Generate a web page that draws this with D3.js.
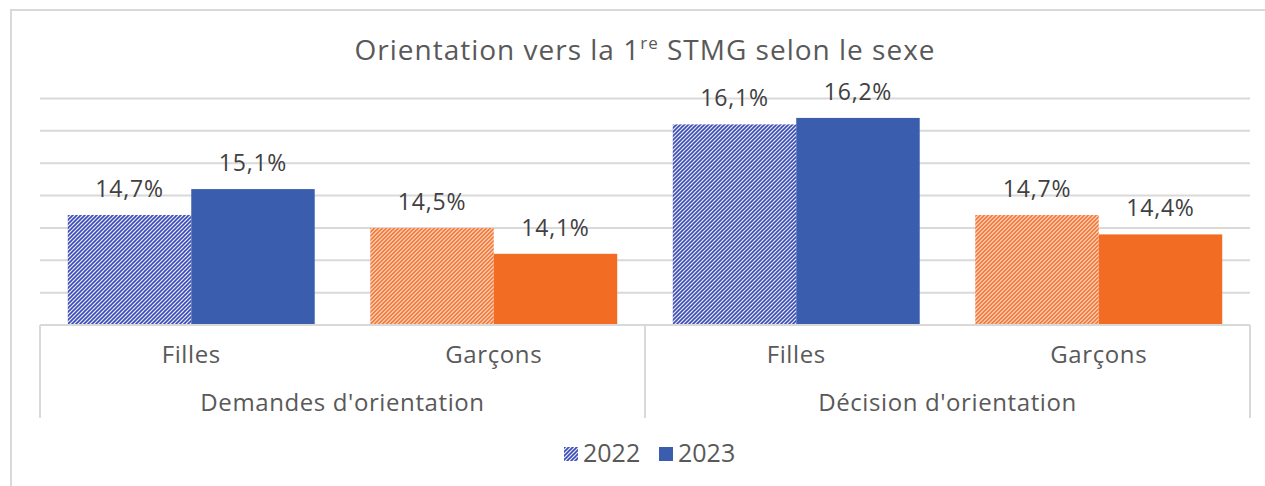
<!DOCTYPE html>
<html>
<head>
<meta charset="utf-8">
<script src="https://cdn.jsdelivr.net/npm/d3@7"></script>
<style>
  body { margin: 0; background: #fff; }
  text { font-family: "Open Sans", sans-serif; }
</style>
</head>
<body>
<script>
const groups = ["Demandes d'orientation", "Décision d'orientation"]
const sexes = ["Filles", "Garçons"]
const years = ["2022", "2023"]
const values2022 = [14.7, 14.5, 16.1, 14.7]
const values2023 = [15.1, 14.1, 16.2, 14.4]
const yTicks = [13, 13.5, 14, 14.5, 15, 15.5, 16, 16.5]

const w = 1265
const h = 486
const blue = '#3a5dae'
const orange = '#f26c23'
const grid = '#d9d9d9'

const rows = []
groups.forEach((g, gi) => sexes.forEach((s, si) => {
    const i = gi * 2 + si
    rows.push({ key: g + '|' + s, group: g, sex: s, v: [values2022[i], values2023[i]] })
}))

const svg = d3.select('body')
                .append('svg')
                .attr('width', w)
                .attr('height', h)

// patterns for 2022 (pixel aligned diagonal stripes)
const defs = svg.append('defs')
const hatch = (id, bg, fg) => {
    const p = defs.append('pattern')
        .attr('id', id)
        .attr('patternUnits', 'userSpaceOnUse')
        .attr('width', 4)
        .attr('height', 4)
    p.append('rect').attr('width', 4).attr('height', 4).attr('fill', bg)
    p.append('path')
        .attr('d', 'M-1,1 l2,-2 M0,4 l4,-4 M3,5 l2,-2')
        .attr('stroke', fg)
        .attr('stroke-width', 1.6)
}
hatch('hBlue', '#e4f3ea', '#4048c0')
hatch('hOrange', '#fff3e6', '#f26722')

svg.append('rect')
    .attr('x', 11).attr('y', 10)
    .attr('width', 1270).attr('height', 500)
    .attr('fill', 'none')
    .attr('stroke', grid)
    .attr('stroke-width', 2)

const plotLeft = 40, plotRight = 1250, plotTop = 98.5, base = 325

const x0 = d3.scaleBand()
                .domain(rows.map(d => d.key))
                .range([plotLeft, plotRight])
const x1 = d3.scaleBand()
                .domain(years)
                .range([0, x0.bandwidth()])
                .paddingOuter(0.225)
const y = d3.scaleLinear()
                .domain([13, 16.5])
                .range([base, plotTop])

svg.append('g')
    .selectAll('line')
    .data(yTicks.slice(1))
    .enter()
    .append('line')
    .attr('x1', plotLeft).attr('x2', plotRight)
    .attr('y1', d => y(d)).attr('y2', d => y(d))
    .attr('stroke', grid)
    .attr('stroke-width', 2)

const fillFor = (d, yi) => {
    const isBoy = d.sex === 'Garçons'
    if (yi === 0) return isBoy ? 'url(#hOrange)' : 'url(#hBlue)'
    return isBoy ? orange : blue
}

const bars = svg.append('g')
    .selectAll('g')
    .data(rows)
    .enter()
    .append('g')
    .attr('transform', d => `translate(${x0(d.key)},0)`)

bars.selectAll('rect')
    .data(d => d.v.map((v, i) => ({ d, v, i })))
    .enter()
    .append('rect')
    .attr('x', e => x1(years[e.i]))
    .attr('width', x1.bandwidth())
    .attr('y', e => y(e.v))
    .attr('height', e => base - y(e.v))
    .attr('fill', e => fillFor(e.d, e.i))

bars.selectAll('text')
    .data(d => d.v.map((v, i) => ({ d, v, i })))
    .enter()
    .append('text')
    .attr('x', e => x1(years[e.i]) + x1.bandwidth() / 2)
    .attr('y', e => y(e.v) - 18)
    .attr('text-anchor', 'middle')
    .attr('font-size', 23)
    .attr('letter-spacing', 0.8)
    .attr('fill', '#404040')
    .text(e => e.v.toFixed(1).replace('.', ',') + '%')

// category axis box
const axis = svg.append('g').attr('stroke', grid).attr('stroke-width', 2)
axis.append('line').attr('x1', plotLeft).attr('x2', plotRight).attr('y1', base).attr('y2', base)
const gx = d3.scaleBand().domain(groups).range([plotLeft, plotRight])
;[plotLeft, gx(groups[1]), plotRight].forEach(xv => {
    axis.append('line').attr('x1', xv).attr('x2', xv).attr('y1', base).attr('y2', 418)
})

svg.append('g')
    .selectAll('text')
    .data(rows)
    .enter()
    .append('text')
    .attr('x', d => x0(d.key) + x0.bandwidth() / 2)
    .attr('y', 363)
    .attr('text-anchor', 'middle')
    .attr('font-size', 24)
    .attr('letter-spacing', 0.6)
    .attr('fill', '#595959')
    .text(d => d.sex)

svg.append('g')
    .selectAll('text')
    .data(groups)
    .enter()
    .append('text')
    .attr('x', d => gx(d) + gx.bandwidth() / 2)
    .attr('y', 411)
    .attr('text-anchor', 'middle')
    .attr('font-size', 24)
    .attr('letter-spacing', 0.6)
    .attr('fill', '#595959')
    .text(d => d)

// title
const title = svg.append('text')
    .attr('x', 645)
    .attr('y', 60)
    .attr('text-anchor', 'middle')
    .attr('font-size', 28)
    .attr('letter-spacing', 1)
    .attr('fill', '#595959')
title.append('tspan').text('Orientation vers la 1')
title.append('tspan').attr('font-size', 17).attr('dy', -11).text('re')
title.append('tspan').attr('dy', 11).text(' STMG selon le sexe')

// legend
const legendItems = [
    { label: years[0], fill: 'url(#hBlue)', x: 564 },
    { label: years[1], fill: blue, x: 659 }
]
const legend = svg.append('g')
legend.selectAll('rect')
    .data(legendItems)
    .enter()
    .append('rect')
    .attr('x', d => d.x)
    .attr('y', 447)
    .attr('width', 14)
    .attr('height', 14)
    .attr('fill', d => d.fill)
legend.selectAll('text')
    .data(legendItems)
    .enter()
    .append('text')
    .attr('x', d => d.x + 19)
    .attr('y', 462)
    .attr('font-size', 25)
    .attr('fill', '#595959')
    .text(d => d.label)
</script>
</body>
</html>
